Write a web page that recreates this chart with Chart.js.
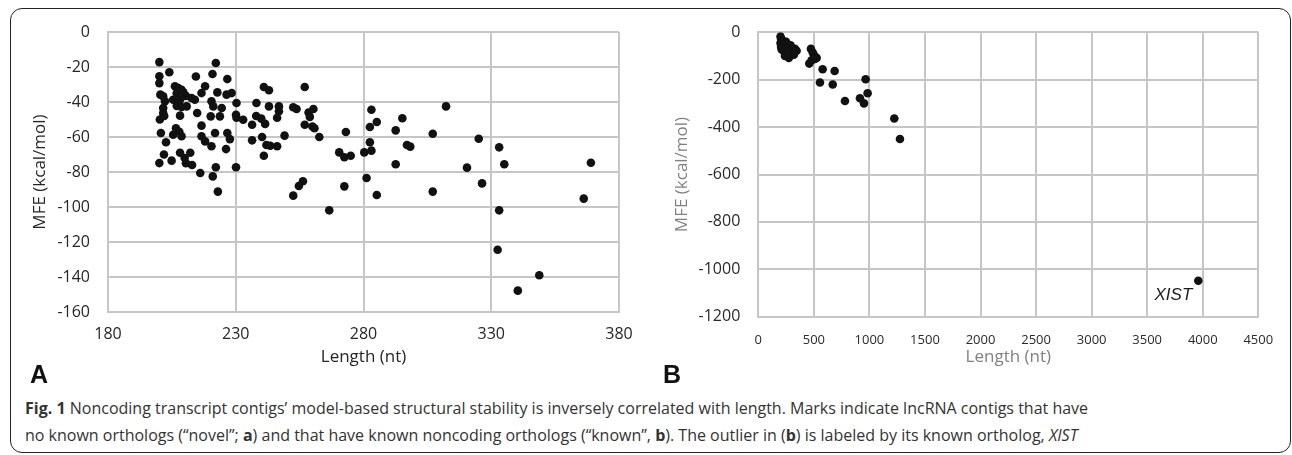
<!DOCTYPE html>
<html>
<head>
<meta charset="utf-8">
<title>Fig. 1 MFE vs length</title>
<script src="https://cdn.jsdelivr.net/npm/chart.js@4.4.1/dist/chart.umd.min.js"></script>
<style>
    html, body { margin: 0; padding: 0; background: #fff; }
    body { width: 1292px; height: 455px; position: relative; overflow: hidden; font-family: "Open Sans", sans-serif; }
    #frame { position: absolute; left: 10px; top: 8px; width: 1279px; height: 443px; border: 1.5px solid #222; border-radius: 12px; }
    canvas { position: absolute; top: 0; }
    #chart-a { left: 0; }
    #chart-b { left: 640px; }
    .letter { position: absolute; top: 360px; font: bold 25px "Liberation Sans", Arial, sans-serif; color: #111; }
    .caption { position: absolute; left: 25px; font-size: 16px; line-height: 20px; color: #333; white-space: nowrap; }
</style>
</head>
<body>
<div id="frame"></div>
<canvas id="chart-a" width="640" height="370"></canvas>
<canvas id="chart-b" width="652" height="370"></canvas>
<div class="letter" style="left:30px">A</div>
<div class="letter" style="left:663px">B</div>
<div class="caption" style="top:398px"><b>Fig. 1</b> Noncoding transcript contigs’ model-based structural stability is inversely correlated with length. Marks indicate lncRNA contigs that have</div>
<div class="caption" style="top:425px">no known orthologs (“novel”; <b>a</b>) and that have known noncoding orthologs (“known”, <b>b</b>). The outlier in (<b>b</b>) is labeled by its known ortholog, <i>XIST</i></div>

<script>
// panel A: novel lncRNA contigs
const novelLength = [
    200.1, 200.1, 200.1, 200.5, 201.6, 202.3, 201.6, 201.6, 200.3, 202, 204,
    200.7, 202.7, 201.9, 200.1, 204.9,
    206.2, 207.5, 208.8, 206.9, 209.5, 210.5,
    205.5, 208.2, 206.9, 208.8, 210.8, 208.2,
    206.6, 207.9, 208.8, 205.5,
    208.2, 212.2, 210, 210.5, 212.9,
    212.7, 214, 214.4, 214.9, 216.6, 218,
    216.6, 216.6, 218, 216.1,
    220.5, 221.2, 220.2, 220.9, 222.2, 222.8, 224.5, 223.8,
    221.9, 220.5, 221, 222.2, 223,
    226.7, 226.4, 228.4, 226.7, 227.7, 226.2,
    230.3, 230.1, 230.3, 230.1,
    232.9, 236.4, 236.4, 238.1, 238, 240, 241.5, 240.3, 241, 241, 243, 243, 242, 243.5,
    246.2, 246.9, 246.9, 246.2, 249.1, 252.5, 252.5, 253.8, 254.7, 256.3, 257, 257,
    258.5, 259, 260.4, 260, 260.8, 262.7,
    266.6, 270.5, 272.5, 275, 273.1, 272.5,
    280.3, 283.1, 282.5, 285.2, 282.5, 283.1, 281.2, 285.2,
    292.6, 295.2, 292.6, 297, 298.3, 307.1, 307.1, 312.3, 320.5, 325.1, 326.4,
    333.1, 335.1, 333.1, 332.5, 340.4, 348.8, 366.2, 369
];
const novelMfe = [
    -17.2, -25.3, -29.2, -35.8, -36.8, -39.6, -43.4, -46.3, -50, -48, -23,
    -57.7, -63, -70, -74.9, -73.5,
    -31, -32, -33, -35, -34.5, -36.5,
    -38.7, -38.7, -42.2, -42.9, -42.5, -47.8,
    -55, -57, -59.6, -58.7,
    -69, -69, -72, -75, -76,
    -37.7, -38.7, -25.4, -46.3, -34.9, -31,
    -53.5, -59.6, -62.5, -80.6,
    -39.6, -42.5, -48.2, -24, -17.7, -34.5, -43.4, -48.2,
    -57.7, -65.3, -82.5, -77.3, -91.2,
    -26.9, -35.8, -34.9, -57.7, -61.2, -66.9,
    -40.6, -47.3, -49, -77.3,
    -50.1, -53, -61.9, -40.6, -48, -49.5, -52.5, -60, -70.7, -31.4, -33.3, -42.5, -64.6, -65,
    -65.3, -42.5, -45.3, -49, -59.2, -93.5, -43, -44, -88, -85.3, -31.4, -53,
    -46, -48.5, -44, -54, -55, -60,
    -101.9, -68.8, -71.6, -70.7, -57.1, -88.2,
    -68.8, -44.4, -54.3, -51.4, -63, -67.8, -83.4, -93.1,
    -56.2, -49.3, -75.6, -64.6, -65.5, -58.1, -91.2, -42.5, -77.5, -61, -86.5,
    -65.9, -75.6, -101.9, -124.4, -147.8, -139, -95.2, -74.7
];

// panel B: contigs with known noncoding orthologs
const knownLength = [
    200, 205, 210, 200, 215, 205, 220, 230, 240, 225, 210, 250, 260, 245, 270,
    280, 265, 290, 300, 310, 320, 330, 345, 300, 280, 255, 240, 275, 230, 320,
    474, 490, 500, 510, 480, 459, 525, 579, 687, 555, 670, 780,
    966, 984, 915, 951, 1224, 1275, 3960
];
const knownMfe = [
    -18, -28, -40, -45, -52, -60, -35, -45, -55, -65, -72, -40, -50, -68, -60,
    -70, -78, -55, -65, -75, -80, -70, -78, -90, -95, -90, -100, -108, -80, -95,
    -70, -85, -95, -112, -118, -132, -108, -156, -163, -212, -220, -290,
    -198, -257, -278, -300, -364, -450, -1048
];
const outlierName = 'XIST';

const novelLengthTicks = [180, 230, 280, 330, 380];
const novelMfeTicks = [-160, -140, -120, -100, -80, -60, -40, -20, 0];
const knownLengthTicks = [0, 500, 1000, 1500, 2000, 2500, 3000, 3500, 4000, 4500];
const knownMfeTicks = [-1200, -1000, -800, -600, -400, -200, 0];

document.addEventListener('DOMContentLoaded', () => {
    const gridColor = '#c6c6c6';

    function toPoints(xs, ys) {
        return xs.map((x, i) => ({ x: x, y: ys[i] }));
    }

    function axis(ticks, opts) {
        return {
            type: 'linear',
            min: ticks[0],
            max: ticks[ticks.length - 1],
            grid: { color: gridColor, lineWidth: 2, drawTicks: false },
            border: { display: true, color: gridColor, width: 2 },
            ticks: {
                stepSize: ticks[1] - ticks[0],
                color: opts.tickColor,
                padding: opts.tickPadding,
                font: { family: 'Open Sans', size: opts.tickSize },
                maxRotation: 0,
                autoSkip: false,
                callback: (value) => String(value)
            },
            title: {
                display: true,
                text: opts.title,
                color: opts.titleColor,
                font: { family: 'Open Sans', size: 17 },
                padding: opts.titlePadding
            },
            afterFit: opts.afterFit
        };
    }

    const outlierLabel = {
        id: 'outlierLabel',
        afterDatasetsDraw(chart) {
            const idx = knownLength.indexOf(Math.max(...knownLength));
            const pt = chart.getDatasetMeta(0).data[idx];
            const ctx = chart.ctx;
            ctx.save();
            ctx.font = 'italic 17px "Liberation Sans", Arial, sans-serif';
            ctx.fillStyle = '#1a1a1a';
            ctx.textAlign = 'right';
            ctx.textBaseline = 'alphabetic';
            ctx.fillText(outlierName, pt.x - 6, pt.y + 19);
            ctx.restore();
        }
    };

    function makeChart(canvasId, points, cfg, plugins) {
        return new Chart(document.getElementById(canvasId), {
            type: 'scatter',
            data: {
                datasets: [{
                    data: points,
                    backgroundColor: '#111',
                    borderColor: '#111',
                    pointRadius: 4.3,
                    pointBorderWidth: 0
                }]
            },
            options: {
                responsive: false,
                animation: false,
                layout: { padding: cfg.padding },
                plugins: {
                    legend: { display: false },
                    tooltip: { enabled: false }
                },
                scales: {
                    x: axis(cfg.xTicks, {
                        title: 'Length (nt)',
                        tickColor: cfg.tickColor,
                        titleColor: cfg.titleColor,
                        tickSize: cfg.xTickSize,
                        tickPadding: cfg.xTickPadding,
                        titlePadding: { top: 0, bottom: 3 },
                        afterFit: (s) => { s.height = cfg.xHeight; s.paddingLeft = 0; s.paddingRight = 0; }
                    }),
                    y: axis(cfg.yTicks, {
                        title: 'MFE (kcal/mol)',
                        tickColor: cfg.tickColor,
                        titleColor: cfg.titleColor,
                        tickSize: 16,
                        tickPadding: 18,
                        titlePadding: { top: cfg.yTitlePad, bottom: 0 },
                        afterFit: (s) => { s.width = cfg.yWidth; s.paddingTop = 0; s.paddingBottom = 0; }
                    })
                }
            },
            plugins: plugins
        });
    }

    makeChart('chart-a', toPoints(novelLength, novelMfe), {
        padding: { top: 32, right: 21, bottom: 0, left: 0 },
        xTicks: novelLengthTicks,
        yTicks: novelMfeTicks,
        tickColor: '#262626',
        titleColor: '#262626',
        xTickSize: 16,
        xTickPadding: 13,
        xHeight: 58,
        yWidth: 108,
        yTitlePad: 30
    }, []);

    makeChart('chart-b', toPoints(knownLength, knownMfe), {
        padding: { top: 32.3, right: 33.7, bottom: 0, left: 0 },
        xTicks: knownLengthTicks,
        yTicks: knownMfeTicks,
        tickColor: '#2a2a2a',
        titleColor: '#808080',
        xTickSize: 13,
        xTickPadding: 16,
        xHeight: 53.3,
        yWidth: 118.3,
        yTitlePad: 32
    }, [outlierLabel]);
});
</script>
</body>
</html>
